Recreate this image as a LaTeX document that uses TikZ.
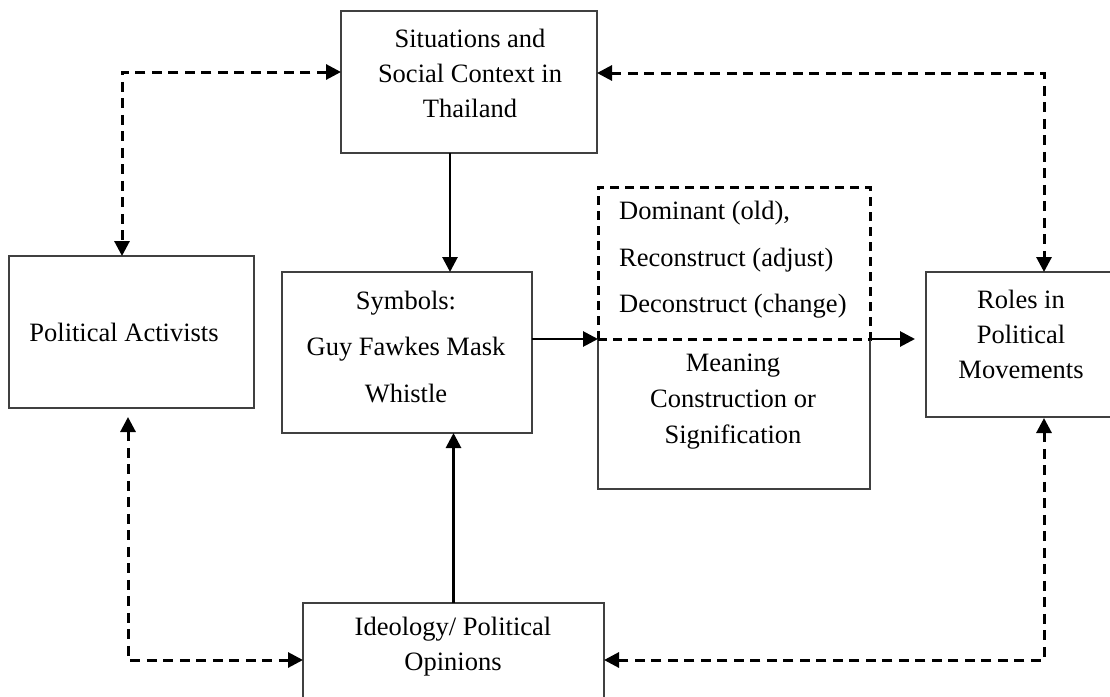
\documentclass[tikz,border=0pt]{standalone}
\usepackage{fontspec}
\setmainfont{Liberation Serif}
\usetikzlibrary{arrows.meta,calc}
\begin{document}
\begin{tikzpicture}[x=1pt,y=-1pt,
  >={Triangle[length=15pt,width=15pt]},
  box/.style={draw=black!75, line width=1.4pt, rectangle, inner sep=0pt, outer sep=0pt},
  dbox/.style={draw=black, line width=3pt, dash pattern=on 9pt off 6pt, rectangle, inner sep=0pt, outer sep=0pt},
  boxline/.style={draw=black!75, line width=1.4pt},
  txt/.style={align=center, inner sep=0pt, font=\fontsize{26.5}{35}\selectfont},
  txtwide/.style={align=center, inner sep=0pt, font=\fontsize{26.5}{46.5}\selectfont},
  conn/.style={line width=2.8pt, ->},
  dconn/.style={line width=3pt, dash pattern=on 10pt off 6.5pt, <->},
]
\useasboundingbox (0,0) rectangle (1110,696);
\fill[white] (0,0) rectangle (1110,696);
\clip (0,0) rectangle (1110,696);

% boxes
\node[box, minimum width=256pt, minimum height=142pt] (sit) at (469,82) {};
\node[box, minimum width=245pt, minimum height=152pt] (pa) at (131.5,332) {};
\node[box, minimum width=250pt, minimum height=161pt] (sym) at (407,352.5) {};
\node[dbox, minimum width=272pt, minimum height=152pt] (dom) at (734,263) {};
\node[inner sep=0pt, outer sep=0pt, minimum width=272pt, minimum height=150pt] (mean) at (734,414) {};
\node[box, minimum width=190pt, minimum height=145pt] (roles) at (1021,344.5) {};
\node[box, minimum width=301pt, minimum height=107pt] (ideo) at (453.5,656.5) {};
\draw[boxline] (mean.north west) -- (mean.south west) -- (mean.south east) -- (mean.north east);
\draw[dbox] (dom.south west) -- (dom.south east);

% texts
\node[txt] (sitT) at (470,73) {Situations and\\Social Context in\\Thailand};
\node[txt] (paT) at (124,332) {Political Activists};
\node[txtwide] (symT) at (406,347) {Symbols:\\Guy Fawkes Mask\\Whistle};
\node[txtwide, align=left, anchor=west] (domT) at (619,260) {Dominant (old),\\Reconstruct (adjust)\\Deconstruct (change)};
\node[align=center, inner sep=0pt, font=\fontsize{26.5}{36}\selectfont] (meanT) at (733,402) {Meaning\\Construction or\\Signification};
\node[txt] (rolesT) at (1021,334) {Roles in\\Political\\Movements};
\node[txt] (ideoT) at (453,647) {Ideology/ Political\\Opinions};

% solid connectors
\draw[conn] ([xshift=-19pt]sit.south) -- ([xshift=-19pt]sit.south |- sym.north);
\draw[conn] (ideo.north) -- (ideo.north |- sym.south);
\draw[conn] (sym.east |- dom.south west) -- (dom.south west);
\draw[conn] (dom.south east) -- ($(roles.west |- dom.south east)+(-11,0)$);

% dashed connectors
\draw[dconn] ($(sit.west)+(0,-10)$) -| ($(pa.north)+(-9.5,0)$);
\draw[dconn] ($(sit.east)+(0,-9)$) -| ($(roles.north)+(23,0)$);
\draw[dconn] ($(pa.south)+(-3.5,9)$) |- ($(ideo.west)+(0,3.5)$);
\draw[dconn] ($(roles.south)+(23,1)$) |- ($(ideo.east)+(0,3.5)$);
\end{tikzpicture}
\end{document}
